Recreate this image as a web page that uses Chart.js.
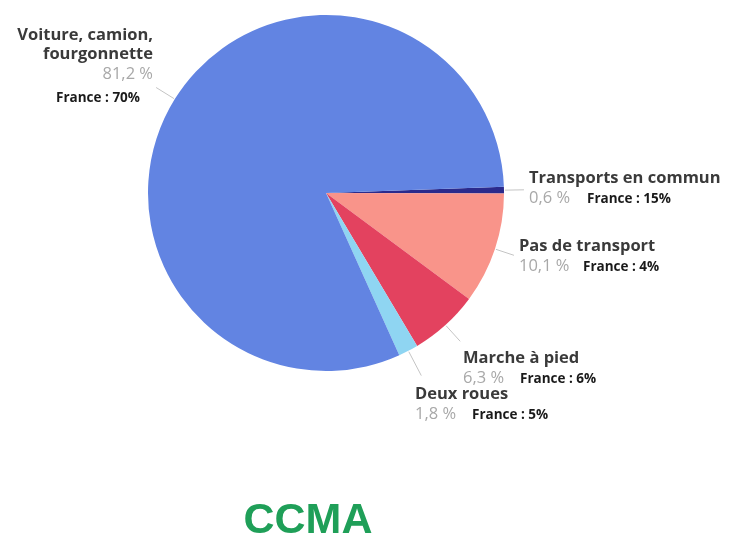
<!DOCTYPE html>
<html lang="fr">
<head>
<meta charset="utf-8">
<title>CCMA - modes de transport</title>
<script src="https://cdn.jsdelivr.net/npm/chart.js@4/dist/chart.umd.min.js"></script>
<style>
  html, body { margin: 0; padding: 0; background: #fff; }
  #wrap { position: relative; width: 730px; height: 539px; }
</style>
</head>
<body>
<div id="wrap">
  <canvas id="pie" width="730" height="539"></canvas>
</div>
<script>
// parts modales (%) et référence France
const categories = [
  ["Transports en commun"],
  ["Pas de transport"],
  ["Marche à pied"],
  ["Deux roues"],
  ["Voiture, camion,", "fourgonnette"]
];
const shares = [0.6, 10.1, 6.3, 1.8, 81.2];
const franceShares = [15, 4, 6, 5, 70];
const colors = ["#2b2a8c", "#f9948a", "#e3425f", "#8fd5f2", "#6284e2"];
const title = "CCMA";

// placement des étiquettes : x, ligne de base du nom, x du texte "France", alignement
const labelPos = [
  { x: 529, y: 183, fx: 587, align: "left", lead: 20 },
  { x: 519, y: 251, fx: 583, align: "left", lead: 20 },
  { x: 463, y: 363, fx: 520, align: "left", lead: 22 },
  { x: 415, y: 399, fx: 472, align: "left", lead: 28 },
  { x: 153, y: 40, fx: 140, align: "right", lead: 22 }
];

function pct(v) {
  return v.toFixed(1).replace(".", ",") + " %";
}

const labelsPlugin = {
  id: "pieLabels",
  afterDraw(chart) {
    const ctx = chart.ctx;
    const arcs = chart.getDatasetMeta(0).data;
    ctx.save();

    arcs.forEach((arc, i) => {
      const p = labelPos[i];
      const mid = (arc.startAngle + arc.endAngle) / 2;
      const r = arc.outerRadius;
      // trait de rappel
      ctx.strokeStyle = "#c4c4c4";
      ctx.lineWidth = 1;
      ctx.beginPath();
      ctx.moveTo(arc.x + Math.cos(mid) * (r + 1), arc.y + Math.sin(mid) * (r + 1));
      ctx.lineTo(arc.x + Math.cos(mid) * (r + p.lead), arc.y + Math.sin(mid) * (r + p.lead));
      ctx.stroke();

      ctx.textAlign = p.align;
      ctx.textBaseline = "alphabetic";
      let y = p.y;
      ctx.fillStyle = "#3a3a3a";
      ctx.font = "bold 16.5px 'Open Sans', sans-serif";
      categories[i].forEach((line, k) => {
        ctx.fillText(line, p.x, y);
        if (k < categories[i].length - 1) y += 19;
      });

      y += 20;
      ctx.fillStyle = "#a8a8a8";
      ctx.font = "16.5px 'Open Sans', sans-serif";
      ctx.fillText(pct(shares[i]), p.x, y);

      ctx.fillStyle = "#1a1a1a";
      ctx.font = "bold 13.5px 'Open Sans', sans-serif";
      if (p.align === "right") {
        ctx.fillText("France : " + franceShares[i] + "%", p.fx, y + 23);
      } else {
        ctx.textAlign = "left";
        ctx.fillText("France : " + franceShares[i] + "%", p.fx, y);
      }
    });

    // titre
    ctx.textAlign = "center";
    ctx.fillStyle = "#1f9f58";
    ctx.font = "bold 43px 'Liberation Sans', Arial, sans-serif";
    ctx.fillText(title, 308, 533);
    ctx.restore();
  }
};

new Chart(document.getElementById("pie"), {
  type: "pie",
  data: {
    labels: categories.map(c => c.join(" ")),
    datasets: [{
      data: shares,
      backgroundColor: colors,
      borderWidth: 0
    }]
  },
  options: {
    responsive: false,
    animation: false,
    rotation: 88,
    layout: { padding: { left: 148, right: 226, top: 15, bottom: 168 } },
    plugins: {
      legend: { display: false },
      tooltip: { enabled: false }
    }
  },
  plugins: [labelsPlugin]
});
</script>
</body>
</html>
